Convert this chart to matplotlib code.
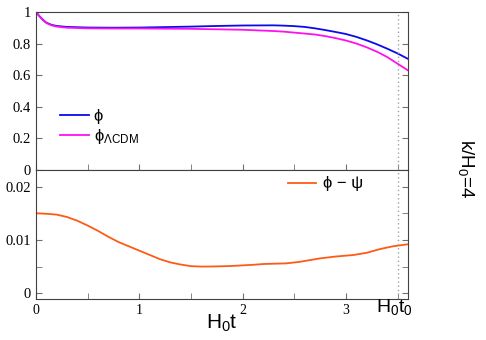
import numpy as np
import matplotlib
matplotlib.use('Agg')
import matplotlib.pyplot as plt
from matplotlib.ticker import MultipleLocator

plt.rcParams['font.family'] = 'Liberation Serif'
plt.rcParams['mathtext.fontset'] = 'custom'
plt.rcParams['mathtext.rm'] = 'Liberation Sans'
plt.rcParams['mathtext.it'] = 'Liberation Sans:italic'
plt.rcParams['mathtext.bf'] = 'Liberation Sans:bold'

# values
t_phi = [0, 0.03, 0.07, 0.1, 0.15, 0.2, 0.3, 0.5, 0.75, 1.0, 1.25, 1.5, 1.75, 2.0, 2.3,
         2.4, 2.5, 2.6, 2.7, 2.8, 2.9, 3.0, 3.1, 3.2, 3.3, 3.4, 3.5, 3.6]
phi = [1.0, 0.975, 0.948, 0.932, 0.918, 0.911, 0.905, 0.901, 0.900, 0.901, 0.904, 0.907,
       0.911, 0.914, 0.915, 0.913, 0.910, 0.905, 0.896, 0.885, 0.873, 0.860, 0.842, 0.820,
       0.795, 0.767, 0.737, 0.703]
phi_lcdm = [1.0, 0.975, 0.947, 0.930, 0.915, 0.907, 0.900, 0.896, 0.895, 0.895, 0.894, 0.893,
            0.890, 0.887, 0.879, 0.875, 0.869, 0.863, 0.857, 0.847, 0.834, 0.819, 0.800,
            0.776, 0.748, 0.714, 0.672, 0.630]

t_diff = [0, 0.1, 0.2, 0.3, 0.4, 0.5, 0.6, 0.7, 0.8, 0.9, 1.0, 1.1, 1.2, 1.3, 1.4, 1.5,
          1.6, 1.72, 1.88, 2.1, 2.2, 2.42, 2.55, 2.75, 2.9, 3.07, 3.2, 3.33, 3.45, 3.6]
diff = [0.0150, 0.0149, 0.01475, 0.0143, 0.0136, 0.0127, 0.0117, 0.0106, 0.0096, 0.0088,
        0.0080, 0.0072, 0.0064, 0.0058, 0.0054, 0.0051, 0.00502, 0.00504, 0.00512, 0.00535,
        0.0055, 0.00562, 0.0059, 0.00656, 0.0069, 0.00718, 0.0076, 0.0083, 0.0088, 0.0092]

t0 = 3.5

fig = plt.figure(figsize=(4.86, 3.40), dpi=100)
ax1 = fig.add_axes([0.0741, 0.5, 0.7654, 0.465])
ax2 = fig.add_axes([0.0741, 0.1206, 0.7654, 0.3794])

ax1.plot(t_phi, phi, color='#0a0aee', lw=1.3, label='ϕ')
ax1.plot(t_phi, phi_lcdm, color='#ff10f0', lw=1.3, label='ϕ$_{\\mathrm{\\Lambda CDM}}$')
ax2.plot(t_diff, diff, color='#ff5a14', lw=1.3, label='ϕ − ψ')

for ax in (ax1, ax2):
    ax.axvline(t0, color='#a0a0a0', lw=1.0, ls=(0, (1, 2)))
    ax.set_xlim(0, 3.6)
    ax.xaxis.set_major_locator(MultipleLocator(1))
    ax.xaxis.set_minor_locator(MultipleLocator(0.5))
    ax.tick_params(which='both', direction='in', right=True, top=False, colors='#707070',
                   labelcolor='black', labelsize=10.5, length=4)
    for s in ax.spines.values():
        s.set_color('#404040')

ax1.set_ylim(0, 1)
ax1.set_yticks([0, 0.2, 0.4, 0.6, 0.8, 1.0])
ax1.set_yticklabels(['0', '0.2', '0.4', '0.6', '0.8', '1'])
ax1.tick_params(labelbottom=False)

ax2.set_ylim(-0.00105, 0.0231)
ax2.set_yticks([0, 0.01, 0.02])
ax2.set_yticklabels(['0', '0.01', '0.02'])
ax2.yaxis.set_minor_locator(MultipleLocator(0.005))
ax2.set_xticks([0, 1, 2, 3])
ax2.set_xticklabels(['0', '1', '2', '3'], fontsize=10)

sans = {'family': 'Liberation Sans', 'size': 12}
ax1.legend(loc='upper left', bbox_to_anchor=(0.065, 0.385), frameon=False, prop=sans,
           handlelength=1.7, labelspacing=0.15, handletextpad=0.3,
           borderpad=0, borderaxespad=0)
ax2.legend(loc='upper left', bbox_to_anchor=(0.677, 0.95), frameon=False, prop=sans,
           handlelength=1.7, handletextpad=0.4, borderpad=0, borderaxespad=0)

fig.text(222 / 486, 1 - 323 / 340, 'H$_0$t', ha='center', va='center',
         fontsize=15, family='Liberation Sans')
ax2.text(t0 - 0.03, -0.06, 'H$_0$t$_0$', transform=ax2.get_xaxis_transform(),
         ha='center', va='center', fontsize=14, family='Liberation Sans')
fig.text(466 / 486, 1 - 168 / 340, 'k/H$_0$=4', rotation=270, ha='center', va='center',
         fontsize=13.5, family='Liberation Sans')

fig.savefig('out.png', dpi=100)
